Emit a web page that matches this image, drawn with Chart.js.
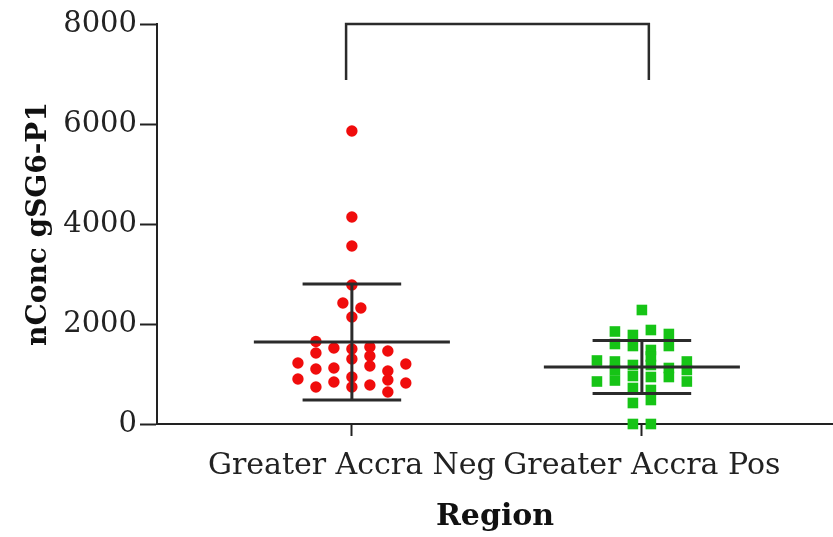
<!DOCTYPE html>
<html>
<head>
<meta charset="utf-8">
<script src="https://cdn.jsdelivr.net/npm/chart.js@4/dist/chart.umd.min.js"></script>
<style>
  html, body { margin: 0; padding: 0; background: #fff; }
  #wrap { width: 833px; height: 537px; }
</style>
</head>
<body>
<div id="wrap"><canvas id="chart"></canvas></div>
<script>
const categories = ["Greater Accra Neg", "Greater Accra Pos"];

// Greater Accra Neg: values and jitter column (column units left/right of centre)
const negValues = [5860, 4140, 3560, 2780, 2420, 2320, 2140,
  1650, 1520, 1500, 1540, 1460, 1420, 1300, 1360, 1220, 1160, 1200, 1100, 1120,
  1060, 900, 940, 880, 840, 820, 740, 740, 780, 640];
const negCols = [0, 0, 0, 0, -0.5, 0.5, 0,
  -2, -1, 0, 1, 2, -2, 0, 1, -3, 1, 3, -2, -1,
  2, -3, 0, 2, -1, 3, -2, 0, 1, 2];

// Greater Accra Pos
const posValues = [2280, 1850, 1780, 1880, 1800, 1600, 1560, 1560, 1480, 1350,
  1270, 1250, 1180, 1180, 1250, 1120, 1080, 1080, 960, 940,
  940, 850, 870, 850, 720, 680, 420, 480, 0, 0];
const posCols = [0, -1.5, -0.5, 0.5, 1.5, -1.5, -0.5, 1.5, 0.5, 0.5,
  -2.5, -1.5, -0.5, 0.5, 2.5, 1.5, -1.5, 2.5, -0.5, 1.5,
  0.5, -2.5, -1.5, 2.5, -0.5, 0.5, -0.5, 0.5, -0.5, 0.5];

// mean and SD
const groupMeans = [1640, 1140];
const groupSDs = [1160, 530];

const yTicks = [0, 2000, 4000, 6000, 8000];
const bracketBottom = 6880;

const colStep = 0.062;
const meanHalf = 0.338;
const capHalf = 0.17;
const lineColor = "#2b2b2b";

function lineSet(points, extra) {
  return Object.assign({
    type: "line",
    data: points,
    borderColor: lineColor,
    borderWidth: 3,
    pointRadius: 0,
    fill: false,
    tension: 0,
  }, extra || {});
}

const datasets = [];
groupMeans.forEach((m, i) => {
  const c = i + 1;
  const sd = groupSDs[i];
  datasets.push(lineSet([{ x: c - meanHalf, y: m }, { x: c + meanHalf, y: m }]));
  datasets.push(lineSet([{ x: c, y: m - sd }, { x: c, y: m + sd }]));
  datasets.push(lineSet([{ x: c - capHalf, y: m + sd }, { x: c + capHalf, y: m + sd }]));
  datasets.push(lineSet([{ x: c - capHalf, y: m - sd }, { x: c + capHalf, y: m - sd }]));
});

datasets.push({
  type: "scatter",
  data: negValues.map((v, i) => ({ x: 1 + negCols[i] * colStep, y: v })),
  pointStyle: "circle",
  pointRadius: 5.7,
  backgroundColor: "rgb(240,12,12)",
  borderWidth: 0,
  clip: false,
});
datasets.push({
  type: "scatter",
  data: posValues.map((v, i) => ({ x: 2 + posCols[i] * colStep, y: v })),
  pointStyle: "rect",
  pointRadius: 7.5,
  backgroundColor: "rgb(22,196,22)",
  borderWidth: 0,
  clip: false,
});

// significance bracket
datasets.push(lineSet([
  { x: 1 - 0.02, y: bracketBottom },
  { x: 1 - 0.02, y: yTicks[yTicks.length - 1] },
  { x: 2 + 0.024, y: yTicks[yTicks.length - 1] },
  { x: 2 + 0.024, y: bracketBottom },
], { clip: false, borderWidth: 2.5 }));

const serif = "'DejaVu Serif', serif";

new Chart(document.getElementById("chart"), {
  type: "scatter",
  data: { datasets: datasets },
  options: {
    responsive: true,
    maintainAspectRatio: false,
    animation: false,
    layout: { autoPadding: false, padding: { top: 24, right: 0, bottom: 0, left: 0 } },
    plugins: {
      legend: { display: false },
      tooltip: { enabled: false },
    },
    scales: {
      x: {
        type: "linear",
        min: 0.328,
        max: 2.659,
        afterBuildTicks: (axis) => {
          axis.ticks = categories.map((c, i) => ({ value: i + 1 }));
        },
        afterFit: (axis) => {
          axis.height = 113;
          axis.paddingLeft = 0;
          axis.paddingRight = 0;
        },
        ticks: {
          color: "#222",
          font: { family: serif, size: 30 },
          padding: 12,
          callback: (v, i) => categories[i],
        },
        grid: {
          drawOnChartArea: false,
          tickLength: 12,
          tickWidth: 2,
          tickColor: "#222",
        },
        border: { color: "#222", width: 2 },
        title: {
          display: true,
          text: "Region",
          color: "#111",
          font: { family: serif, size: 30, weight: "bold" },
          padding: { bottom: 2 },
        },
      },
      y: {
        min: 0,
        max: 8000,
        afterBuildTicks: (axis) => {
          axis.ticks = yTicks.map((v) => ({ value: v }));
        },
        afterFit: (axis) => {
          axis.width = 157;
          axis.paddingTop = 0;
          axis.paddingBottom = 0;
        },
        ticks: {
          color: "#222",
          font: { family: serif, size: 29 },
          padding: 3,
          callback: (v) => String(v),
        },
        grid: {
          drawOnChartArea: false,
          tickLength: 17,
          tickWidth: 2,
          tickColor: "#222",
        },
        border: { color: "#222", width: 2 },
        title: {
          display: true,
          text: "nConc gSG6-P1",
          color: "#111",
          font: { family: serif, size: 28, weight: "bold" },
          padding: { top: 22 },
        },
      },
    },
  },
});
</script>
</body>
</html>
